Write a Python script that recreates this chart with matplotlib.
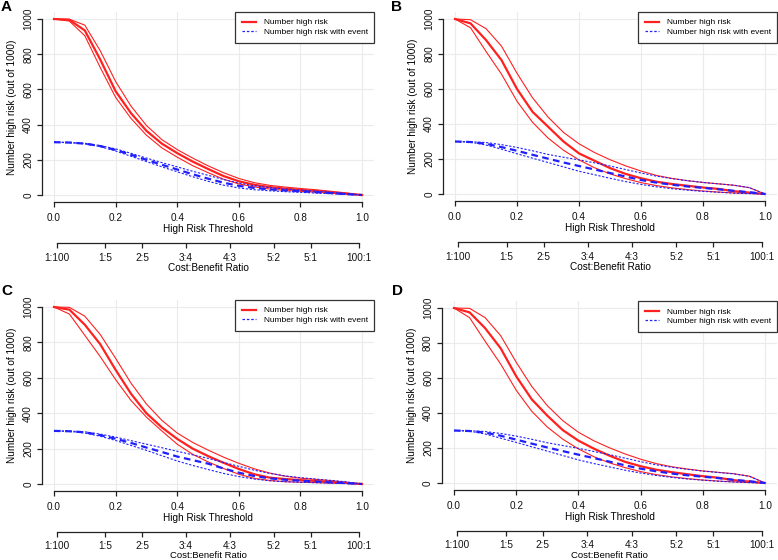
import matplotlib
matplotlib.use("Agg")
import matplotlib.pyplot as plt
from matplotlib.lines import Line2D
import numpy as np

plt.rcParams['font.family'] = ['Liberation Sans', 'DejaVu Sans']

thresholds = [0.0, 0.05, 0.10, 0.15, 0.20, 0.25, 0.30, 0.35, 0.40, 0.45, 0.50,
              0.55, 0.60, 0.65, 0.70, 0.75, 0.80, 0.85, 0.90, 0.95, 1.0]

# Panel A
A_red_c = [1000, 995, 935, 770, 590, 465, 365, 292, 238, 190, 148, 108, 78, 58, 45, 36, 29, 23, 15, 8, 0]
A_red_u = [1000, 999, 965, 820, 645, 505, 395, 315, 258, 210, 166, 127, 94, 70, 55, 45, 37, 30, 21, 11, 0]
A_red_l = [1000, 988, 905, 725, 555, 435, 340, 268, 215, 167, 127, 90, 63, 46, 34, 26, 21, 16, 10, 5, 0]
A_blue_c = [300, 298, 292, 278, 256, 229, 200, 172, 145, 118, 93, 70, 52, 40, 32, 26, 21, 16, 11, 5, 0]
A_blue_u = [300, 299, 294, 281, 262, 237, 210, 184, 160, 135, 112, 88, 68, 52, 42, 34, 28, 22, 15, 8, 0]
A_blue_l = [300, 297, 290, 275, 250, 220, 190, 160, 132, 104, 78, 56, 40, 30, 24, 19, 15, 11, 7, 3, 0]

# Panel B
B_red_c = [1000, 975, 880, 765, 600, 470, 385, 300, 232, 190, 148, 115, 90, 70, 57, 47, 37, 29, 16, 8, 0]
B_red_u = [1000, 996, 945, 845, 690, 550, 440, 352, 287, 237, 196, 161, 131, 106, 89, 76, 66, 58, 50, 36, 0]
B_red_l = [1000, 950, 815, 685, 530, 410, 320, 250, 195, 150, 115, 88, 65, 48, 35, 25, 17, 11, 6, 3, 0]
B_blue_c = [300, 297, 287, 268, 247, 224, 202, 180, 160, 140, 120, 100, 80, 65, 53, 43, 35, 27, 18, 10, 0]
B_blue_u = [300, 299, 294, 282, 266, 247, 226, 210, 195, 178, 160, 140, 120, 102, 88, 76, 66, 58, 50, 36, 0]
B_blue_l = [300, 296, 280, 256, 230, 205, 180, 155, 130, 110, 90, 71, 55, 41, 30, 22, 15, 10, 5, 2, 0]

# Panel C
C_red_c = [1000, 985, 900, 790, 645, 510, 400, 320, 255, 200, 158, 120, 85, 55, 36, 28, 22, 17, 12, 6, 0]
C_red_u = [1000, 998, 948, 845, 710, 570, 452, 360, 288, 235, 192, 152, 117, 86, 62, 44, 33, 26, 19, 10, 0]
C_red_l = [1000, 960, 840, 720, 590, 472, 378, 300, 225, 168, 125, 88, 55, 32, 20, 13, 10, 8, 5, 3, 0]
C_blue_c = [300, 298, 292, 276, 256, 232, 206, 181, 155, 135, 115, 88, 64, 45, 32, 24, 19, 14, 9, 5, 0]
C_blue_u = [300, 299, 295, 282, 265, 245, 225, 205, 185, 165, 145, 122, 100, 78, 60, 46, 36, 28, 20, 12, 0]
C_blue_l = [300, 297, 288, 270, 246, 218, 190, 160, 130, 105, 82, 60, 42, 28, 18, 13, 10, 7, 5, 2, 0]

# Panel D
D_red_c = [1000, 975, 885, 770, 610, 478, 385, 302, 242, 196, 156, 121, 96, 76, 62, 50, 39, 30, 16, 8, 0]
D_red_u = [1000, 998, 945, 842, 690, 552, 442, 356, 290, 241, 201, 166, 136, 111, 93, 80, 69, 61, 53, 39, 0]
D_red_l = [1000, 945, 810, 680, 530, 410, 320, 250, 195, 150, 115, 88, 65, 48, 35, 25, 17, 11, 6, 3, 0]
D_blue_c = [300, 297, 288, 270, 248, 225, 203, 182, 162, 142, 122, 101, 82, 67, 54, 44, 36, 28, 18, 10, 0]
D_blue_u = [300, 299, 294, 283, 268, 250, 230, 214, 198, 180, 162, 142, 122, 104, 90, 78, 68, 60, 52, 38, 0]
D_blue_l = [300, 296, 280, 256, 232, 207, 182, 157, 132, 111, 92, 73, 57, 43, 32, 23, 16, 10, 6, 2, 0]

panel_labels = ["A", "B", "C", "D"]
x_ticks = [0.0, 0.2, 0.4, 0.6, 0.8, 1.0]
x_ticklabels = ["0.0", "0.2", "0.4", "0.6", "0.8", "1.0"]
y_ticks = [0, 200, 400, 600, 800, 1000]
cb_labels = ["1:100", "1:5", "2:5", "3:4", "4:3", "5:2", "5:1", "100:1"]
legend_labels = ["Number high risk", "Number high risk with event"]

panels = [
    (A_red_c, A_red_u, A_red_l, A_blue_c, A_blue_u, A_blue_l),
    (B_red_c, B_red_u, B_red_l, B_blue_c, B_blue_u, B_blue_l),
    (C_red_c, C_red_u, C_red_l, C_blue_c, C_blue_u, C_blue_l),
    (D_red_c, D_red_u, D_red_l, D_blue_c, D_blue_u, D_blue_l),
]

# pixel geometry: (x of 0.0, x of 1.0, y of 1000, y of 0)
geom = [(54, 362, 19, 195), (455, 765, 19, 194), (54, 362, 307, 484), (454, 765, 308, 483)]
letter_pos = [(1, 7), (391, 7), (1, 291), (392, 291)]
cb_title_off = [73, 73, 71, 72]
cb_pad = [3.5, 3.5, 2.8, 2.8]

W, H = 778, 560
fig = plt.figure(figsize=(W / 100, H / 100), dpi=100)

RED = '#FF2020'
BLUE = '#2020FF'
AX = '#222222'
TS = 7.2
cb_pos = [int(s.split(':')[0]) / (int(s.split(':')[0]) + int(s.split(':')[1])) for s in cb_labels]

for i, (data, (x0, x1, y1000, y0)) in enumerate(zip(panels, geom)):
    w = x1 - x0
    h = y0 - y1000
    left = x0 - 0.04 * w
    right = x1 + 0.04 * w
    top = y1000 - 0.04 * h
    bottom = y0 + 0.04 * h
    ax = fig.add_axes([left / W, 1 - bottom / H, (right - left) / W, (bottom - top) / H])
    ax.set_xlim(-0.04, 1.04)
    ax.set_ylim(-40, 1040)
    ax.grid(True, color='#EBEBEB', lw=0.8)
    ax.set_axisbelow(True)
    rc, ru, rl, bc, bu, bl = data
    ax.plot(thresholds, ru, color=RED, lw=0.8)
    ax.plot(thresholds, rl, color=RED, lw=0.8)
    ax.plot(thresholds, rc, color=RED, lw=1.6)
    ax.plot(thresholds, bu, color=BLUE, lw=0.8, dashes=(2, 1.5))
    ax.plot(thresholds, bl, color=BLUE, lw=0.8, dashes=(2, 1.5))
    ax.plot(thresholds, bc, color=BLUE, lw=1.6, dashes=(3, 2))

    for s in ['top', 'right']:
        ax.spines[s].set_visible(False)
    ax.spines['left'].set_bounds(0, 1000)
    ax.spines['bottom'].set_bounds(0, 1)
    for s in ['left', 'bottom']:
        ax.spines[s].set_color(AX)
        ax.spines[s].set_linewidth(0.9)
    ax.set_xticks(x_ticks)
    ax.set_xticklabels(x_ticklabels)
    ax.set_yticks(y_ticks)
    ax.set_yticklabels([str(v) for v in y_ticks])
    ax.tick_params(axis='both', length=3.6, width=0.9, color=AX, labelsize=TS, labelcolor='#111111')
    ax.tick_params(axis='x', pad=4)
    ax.tick_params(axis='y', labelrotation=90, pad=2.5)
    for lbl in ax.get_yticklabels():
        lbl.set_va('center')

    handles = [Line2D([], [], color=RED, lw=1.6),
               Line2D([], [], color=BLUE, lw=0.9, dashes=(2, 1.5))]
    leg = ax.legend(handles, legend_labels, loc='upper right', bbox_to_anchor=(1.0, 1.0),
                    fontsize=6, frameon=True, fancybox=False, framealpha=1,
                    edgecolor='#333333', borderaxespad=0.0, borderpad=0.8,
                    labelspacing=0.2, handlelength=1.7, handletextpad=0.9)
    leg.get_frame().set_linewidth(0.9)

    ax2 = ax.twiny()
    ax2.set_xlim(-0.04, 1.04)
    ax2.xaxis.set_ticks_position('bottom')
    ax2.spines['bottom'].set_position(('outward', 41 * 0.72))
    for s in ['top', 'left', 'right']:
        ax2.spines[s].set_visible(False)
    ax2.spines['bottom'].set_bounds(cb_pos[0], cb_pos[-1])
    ax2.spines['bottom'].set_color(AX)
    ax2.spines['bottom'].set_linewidth(0.9)
    ax2.set_xticks(cb_pos)
    ax2.set_xticklabels(cb_labels)
    ax2.tick_params(axis='x', length=3.6, width=0.9, color=AX, labelsize=TS, pad=cb_pad[i], labelcolor='#111111')

    # axis titles
    fig.text((x0 + x1) / 2 / W, 1 - (y0 + 34) / H, "High Risk Threshold", ha='center', va='center', fontsize=TS)
    fig.text((x0 + x1) / 2 / W, 1 - (y0 + cb_title_off[i]) / H, "Cost:Benefit Ratio", ha='center', va='center',
             fontsize=TS if i < 2 else 6.8)
    fig.text((left - 30) / W, 1 - ((top + bottom) / 2) / H, "Number high risk (out of 1000)",
             ha='center', va='center', rotation=90, fontsize=TS)
    lx, ly = letter_pos[i]
    fig.text(lx / W, 1 - ly / H, panel_labels[i], ha='left', va='center', fontsize=11, fontweight='bold')

fig.savefig("out.png", dpi=100)
